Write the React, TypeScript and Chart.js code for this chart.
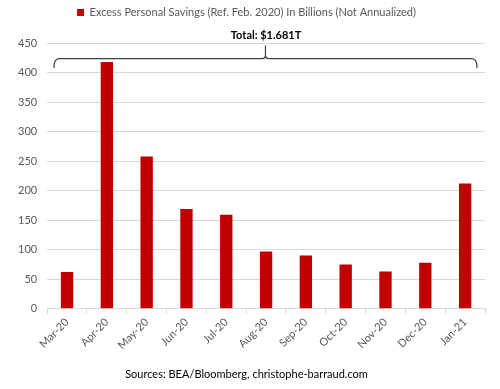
import React, { useEffect, useRef } from "react";
import { Chart, registerables } from "chart.js";

Chart.register(...registerables);

const categories = ["Mar-20", "Apr-20", "May-20", "Jun-20", "Jul-20", "Aug-20", "Sep-20", "Oct-20", "Nov-20", "Dec-20", "Jan-21"];
const savings = [62, 418, 258, 169, 159, 97, 90, 75, 63, 78, 212];
const seriesLabel = "Excess Personal Savings (Ref. Feb. 2020) In Billions (Not Annualized)";
const totalLabel = "Total: $1.681T";
const sourceLabel = "Sources: BEA/Bloomberg, christophe-barraud.com";
const yTicks = [0, 50, 100, 150, 200, 250, 300, 350, 400, 450];

const FONT = "Lato, 'Open Sans', sans-serif";

const bracePlugin = {
  id: "brace",
  afterDatasetsDraw(chart: any) {
    const { ctx, scales } = chart;
    const xs = scales.x;
    const ys = scales.y;
    const x0 = xs.getPixelForValue(-0.33);
    const x1 = xs.getPixelForValue(categories.length - 1 + 0.3);
    const xc = (x0 + x1) / 2;
    const yL = ys.getPixelForValue(424);
    const yEnd = ys.getPixelForValue(408);
    const yTip = ys.getPixelForValue(446);
    ctx.save();
    ctx.strokeStyle = "#404040";
    ctx.lineWidth = 1.2;
    ctx.beginPath();
    ctx.moveTo(x0, yEnd);
    ctx.quadraticCurveTo(x0, yL, x0 + 5, yL);
    ctx.lineTo(xc - 3, yL);
    ctx.quadraticCurveTo(xc, yL, xc, yL - 3);
    ctx.lineTo(xc, yTip);
    ctx.moveTo(xc, yL - 3);
    ctx.quadraticCurveTo(xc, yL, xc + 3, yL);
    ctx.lineTo(x1 - 5, yL);
    ctx.quadraticCurveTo(x1, yL, x1, yEnd);
    ctx.stroke();
    ctx.restore();
  },
};

export default function App() {
  const ref = useRef<HTMLCanvasElement>(null);
  useEffect(() => {
    document.body.style.margin = "0";
    const chart = new Chart(ref.current!, {
      type: "bar",
      data: {
        labels: categories,
        datasets: [
          {
            label: seriesLabel,
            data: savings,
            backgroundColor: "#C00000",
            borderWidth: 0,
            barPercentage: 0.31,
            categoryPercentage: 1,
          },
        ],
      },
      options: {
        animation: false,
        responsive: false,
        layout: { padding: { left: 8, right: 15, top: 3, bottom: 4 } },
        plugins: {
          legend: {
            position: "top",
            labels: {
              boxWidth: 7,
              boxHeight: 7,
              padding: 4,
              color: "#595959",
              font: { family: FONT, size: 11 },
            },
          },
          subtitle: {
            display: true,
            text: totalLabel,
            weight: 500,
            fullSize: false,
            color: "#000",
            font: { family: FONT, size: 11, weight: "bold" },
            padding: { top: 1, bottom: 1 },
          },
          title: {
            display: true,
            position: "bottom",
            text: sourceLabel,
            color: "#000",
            font: { family: FONT, size: 11, weight: "normal" },
            padding: { top: 14, bottom: 4 },
          },
          tooltip: { enabled: false },
        },
        scales: {
          x: {
            grid: {
              drawOnChartArea: false,
              drawTicks: true,
              tickLength: 5,
              color: "#d9d9d9",
            },
            border: { color: "#d9d9d9" },
            ticks: {
              color: "#595959",
              font: { family: FONT, size: 11 },
              minRotation: 45,
              maxRotation: 45,
              padding: 2,
            },
          },
          y: {
            min: 0,
            max: 450,
            afterBuildTicks(axis: any) {
              axis.ticks = yTicks.map((v) => ({ value: v }));
            },
            grid: { color: "#d9d9d9", drawTicks: false },
            border: { display: false },
            ticks: {
              color: "#595959",
              font: { family: FONT, size: 11 },
              padding: 10,
            },
          },
        },
      },
      plugins: [bracePlugin],
    });
    return () => chart.destroy();
  }, []);
  return <canvas ref={ref} width={500} height={389} style={{ display: "block" }} />;
}
